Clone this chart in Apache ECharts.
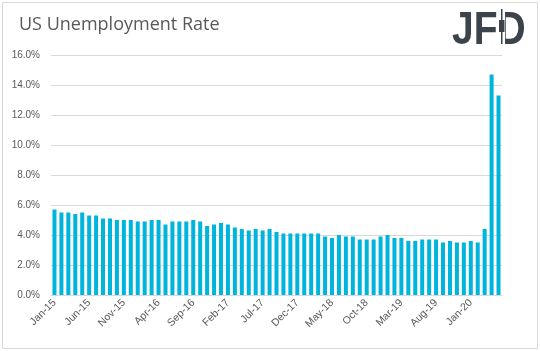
<!DOCTYPE html>
<html>
<head>
<meta charset="utf-8">
<script src="https://cdn.jsdelivr.net/npm/echarts@6/dist/echarts.min.js"></script>
<style>
  html, body { margin: 0; padding: 0; background: #fff; }
  #chart { width: 540px; height: 351px; }
</style>
</head>
<body>
<div id="chart"></div>
<script>
// months Jan-15 .. May-20
const months = [
  'Jan-15', 'Feb-15', 'Mar-15', 'Apr-15', 'May-15', 'Jun-15', 'Jul-15', 'Aug-15', 'Sep-15', 'Oct-15', 'Nov-15', 'Dec-15',
  'Jan-16', 'Feb-16', 'Mar-16', 'Apr-16', 'May-16', 'Jun-16', 'Jul-16', 'Aug-16', 'Sep-16', 'Oct-16', 'Nov-16', 'Dec-16',
  'Jan-17', 'Feb-17', 'Mar-17', 'Apr-17', 'May-17', 'Jun-17', 'Jul-17', 'Aug-17', 'Sep-17', 'Oct-17', 'Nov-17', 'Dec-17',
  'Jan-18', 'Feb-18', 'Mar-18', 'Apr-18', 'May-18', 'Jun-18', 'Jul-18', 'Aug-18', 'Sep-18', 'Oct-18', 'Nov-18', 'Dec-18',
  'Jan-19', 'Feb-19', 'Mar-19', 'Apr-19', 'May-19', 'Jun-19', 'Jul-19', 'Aug-19', 'Sep-19', 'Oct-19', 'Nov-19', 'Dec-19',
  'Jan-20', 'Feb-20', 'Mar-20', 'Apr-20', 'May-20'
];

// unemployment rate, %
const rate = [
  5.7, 5.5, 5.5, 5.4, 5.5, 5.3, 5.3, 5.1, 5.1, 5.0, 5.0, 5.0,
  4.9, 4.9, 5.0, 5.0, 4.7, 4.9, 4.9, 4.9, 5.0, 4.9, 4.6, 4.7,
  4.8, 4.7, 4.5, 4.4, 4.3, 4.4, 4.3, 4.4, 4.2, 4.1, 4.1, 4.1,
  4.1, 4.1, 4.1, 3.9, 3.8, 4.0, 3.9, 3.9, 3.7, 3.7, 3.7, 3.9,
  4.0, 3.8, 3.8, 3.6, 3.6, 3.7, 3.7, 3.7, 3.5, 3.6, 3.5, 3.5,
  3.6, 3.5, 4.4, 14.7, 13.3
];

const chart = echarts.init(document.getElementById('chart'));

const option = {
  animation: false,
  backgroundColor: '#fff',
  title: {
    text: 'US Unemployment Rate',
    left: 14,
    top: 11,
    textStyle: {
      fontFamily: 'Open Sans',
      fontWeight: 'normal',
      fontSize: 18,
      color: '#595959'
    }
  },
  grid: {
    left: 51,
    right: 38,
    top: 55,
    bottom: 56
  },
  xAxis: {
    type: 'category',
    data: months,
    axisLine: { lineStyle: { color: '#d9d9d9' } },
    axisTick: {
      interval: 4,
      length: 5,
      lineStyle: { color: '#d9d9d9' }
    },
    axisLabel: {
      interval: 4,
      rotate: 45,
      margin: 6,
      fontFamily: 'Liberation Sans',
      fontSize: 10.5,
      color: '#595959'
    }
  },
  yAxis: {
    type: 'value',
    min: 0,
    max: 16,
    interval: 2,
    axisLine: { show: false },
    axisTick: { show: false },
    splitLine: { lineStyle: { color: '#d9d9d9' } },
    axisLabel: {
      margin: 11,
      fontFamily: 'Liberation Sans',
      fontSize: 10,
      color: '#595959',
      formatter: v => v.toFixed(1) + '%'
    }
  },
  series: [{
    type: 'bar',
    data: rate,
    barCategoryGap: '42%',
    itemStyle: { color: '#00b5dd' }
  }],
  graphic: [
    {
      type: 'rect',
      shape: { x: 2.5, y: 2.5, width: 535, height: 346 },
      style: { fill: 'none', stroke: '#d9d9d9', lineWidth: 1 },
      silent: true
    },
    {
      type: 'text',
      x: 452,
      y: 8,
      scaleX: 0.83,
      style: {
        text: 'JFD',
        fontFamily: 'Liberation Sans',
        fontWeight: 'bold',
        fontSize: 47,
        fill: '#3d434b',
        textVerticalAlign: 'top'
      }
    },
    // candle in place of the D stem
    {
      type: 'rect',
      shape: { x: 497, y: 6, width: 8, height: 40 },
      style: { fill: '#fff' }
    },
    {
      type: 'rect',
      shape: { x: 501, y: 9, width: 1.5, height: 35 },
      style: { fill: '#3d434b' }
    },
    {
      type: 'rect',
      shape: { x: 499, y: 20, width: 5.5, height: 12 },
      style: { fill: '#3d434b' }
    }
  ]
};

chart.setOption(option);
</script>
</body>
</html>
